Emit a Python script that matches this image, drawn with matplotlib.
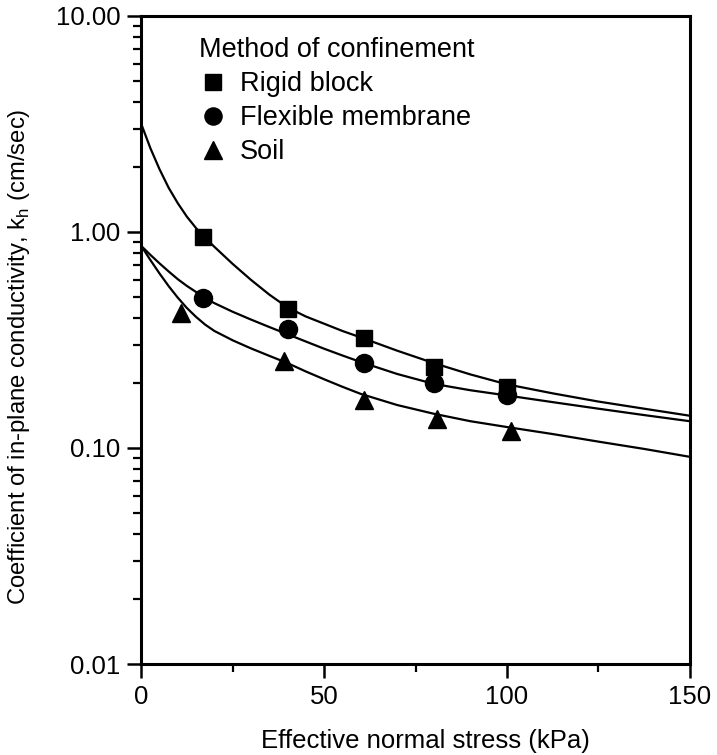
import numpy as np
import matplotlib
matplotlib.use("Agg")
import matplotlib.pyplot as plt
from matplotlib.ticker import FixedLocator, LogLocator, NullFormatter

plt.rcParams["font.family"] = ["Liberation Sans", "DejaVu Sans"]

# ── Measured points ────────────────────────────────────────────────────────────
rigid_x = [17, 40, 61, 80, 100]
rigid_k = [0.95, 0.44, 0.323, 0.238, 0.192]

flex_x = [17, 40, 61, 80, 100]
flex_k = [0.495, 0.355, 0.248, 0.20, 0.176]

soil_x = [11, 39, 61, 81, 101]
soil_k = [0.42, 0.253, 0.167, 0.136, 0.12]

# ── Fitted curves ──────────────────────────────────────────────────────────────
curve_x = [0, 2.5, 5, 7.5, 10, 12.5, 15, 17.5, 20, 25, 30, 35, 40, 45, 50, 55,
           60, 70, 80, 90, 100, 112.5, 125, 137.5, 150]
rigid_ck = [3.16, 2.44, 1.95, 1.60, 1.357, 1.175, 1.041, 0.939, 0.853, 0.711,
            0.600, 0.513, 0.447, 0.406, 0.376, 0.348, 0.325, 0.282, 0.247,
            0.219, 0.197, 0.179, 0.164, 0.152, 0.141]
flex_ck = [0.861, 0.783, 0.715, 0.656, 0.604, 0.562, 0.527, 0.494, 0.468,
           0.427, 0.393, 0.363, 0.336, 0.311, 0.288, 0.268, 0.250, 0.220,
           0.198, 0.185, 0.175, 0.163, 0.152, 0.142, 0.133]
soil_ck = [0.861, 0.741, 0.642, 0.561, 0.496, 0.444, 0.404, 0.372, 0.348,
           0.315, 0.289, 0.267, 0.247, 0.226, 0.208, 0.192, 0.178, 0.158,
           0.144, 0.133, 0.125, 0.116, 0.107, 0.099, 0.091]

x_ticks = [0, 50, 100, 150]
x_minor = [25, 75, 125]
y_ticks = [0.01, 0.10, 1.00, 10.00]
y_labels = ["0.01", "0.10", "1.00", "10.00"]

# ── Figure ─────────────────────────────────────────────────────────────────────
fig = plt.figure(figsize=(7.17, 7.55), dpi=100)
ax = fig.add_axes([0.197, 0.1205, 0.765, 0.8585])

lw = 1.6
ax.plot(curve_x, rigid_ck, color="black", lw=lw)
ax.plot(curve_x, flex_ck, color="black", lw=lw)
ax.plot(curve_x, soil_ck, color="black", lw=lw)

ax.plot(rigid_x, rigid_k, "s", color="black", ms=12, ls="none", label="Rigid block")
ax.plot(flex_x, flex_k, "o", color="black", ms=13, ls="none", label="Flexible membrane")
ax.plot(soil_x, soil_k, "^", color="black", ms=13, ls="none", label="Soil")

ax.set_yscale("log")
ax.set_xlim(0, 150)
ax.set_ylim(0.01, 10)

ax.set_xticks(x_ticks)
ax.xaxis.set_minor_locator(FixedLocator(x_minor))
ax.set_yticks(y_ticks)
ax.set_yticklabels(y_labels)
ax.yaxis.set_minor_locator(LogLocator(base=10, subs=np.arange(2, 10)))
ax.yaxis.set_minor_formatter(NullFormatter())

ax.tick_params(which="major", direction="out", length=10, width=1.8,
               labelsize=18.5, pad=5)
ax.tick_params(which="minor", direction="out", length=5.5, width=1.6)
for s in ax.spines.values():
    s.set_linewidth(2.2)

ax.set_xlabel("Effective normal stress (kPa)", fontsize=18.5)
ax.xaxis.set_label_coords(0.518, -0.1)
fig.text(0.026, 0.528,
         "Coefficient of in-plane conductivity, k$_\\mathregular{h}$ (cm/sec)",
         rotation=90, ha="center", va="center", fontsize=17.2)

leg = ax.legend(title="Method of confinement", loc="upper left",
                bbox_to_anchor=(0.086, 0.984), frameon=False, fontsize=19.5,
                title_fontsize=19.5, handletextpad=0.5, labelspacing=0.3,
                alignment="left", handlelength=1.0, borderaxespad=0,
                markerscale=0.95)

fig.savefig("out.png", dpi=100)
